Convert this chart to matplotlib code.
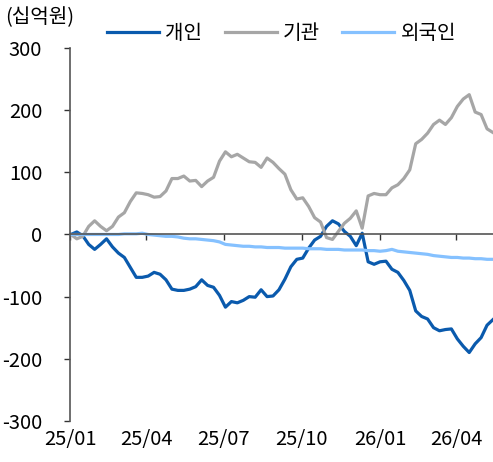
import matplotlib
matplotlib.use('Agg')
import matplotlib.pyplot as plt
import matplotlib.dates as mdates
import pandas as pd

plt.rcParams['font.family'] = ['Noto Sans CJK KR', 'DejaVu Sans']
plt.rcParams['font.weight'] = 'light'
plt.rcParams['axes.unicode_minus'] = False

# 주간 누적 순매수 (십억원)
dates = pd.date_range('2025-01-02', periods=72, freq='7D')

individual = [0, 4, -2, -16, -24, -16, -7, -20, -30, -37,
              -53, -69, -69, -67, -61, -64, -73, -88, -90, -90,
              -88, -84, -73, -82, -85, -98, -117, -108, -110, -106,
              -100, -101, -89, -100, -99, -89, -72, -52, -40, -38,
              -22, -9, -3, 13, 22, 17, 5, -3, -18, 2,
              -44, -48, -44, -43, -56, -61, -74, -90, -123, -132,
              -136, -150, -155, -153, -152, -168, -180, -190, -176, -166,
              -146, -137]

institution = [0, -7, -3, 13, 22, 13, 6, 13, 28, 35,
               53, 67, 66, 64, 60, 61, 70, 90, 90, 94,
               86, 87, 77, 86, 92, 118, 133, 125, 129, 123,
               117, 116, 108, 123, 116, 106, 97, 72, 57, 59,
               45, 27, 20, -5, -8, 5, 18, 26, 38, 10,
               62, 66, 64, 64, 75, 80, 90, 104, 146, 153,
               163, 177, 184, 177, 188, 206, 218, 225, 197, 193,
               170, 164]

foreign = [0, 0, 0, 0, 0, 0, 0, 0, 0, 1,
           1, 1, 2, 0, -1, -2, -3, -3, -4, -6,
           -7, -7, -8, -9, -10, -12, -16, -17, -18, -19,
           -19, -20, -20, -21, -21, -21, -22, -22, -22, -22,
           -23, -23, -23, -24, -24, -24, -25, -25, -25, -25,
           -26, -26, -27, -26, -24, -27, -28, -29, -30, -31,
           -32, -34, -35, -36, -37, -37, -38, -38, -39, -39,
           -40, -40]

labels = ['개인', '기관', '외국인']
colors = ['#0a5aad', '#a6a6a6', '#85c1ff']
tick_dates = pd.to_datetime(['2025-01-01', '2025-04-01', '2025-07-01',
                             '2025-10-01', '2026-01-01', '2026-04-01'])

fig = plt.figure(figsize=(4.93, 4.62), dpi=100)
ax = fig.add_axes([0.142, 0.089, 0.858, 0.807])

for vals, lab, c in zip([individual, institution, foreign], labels, colors):
    ax.plot(dates, vals, color=c, lw=2.3, label=lab, solid_joinstyle='round')

ax.set_xlim(pd.Timestamp('2025-01-01'), dates[-1])
ax.set_ylim(-300, 300)
ax.set_yticks(range(-300, 301, 100))

ax.spines['top'].set_visible(False)
ax.spines['right'].set_visible(False)
ax.spines['bottom'].set_position(('data', 0))
for s in ['left', 'bottom']:
    ax.spines[s].set_color('#555555')
    ax.spines[s].set_linewidth(1.2)

ax.set_xticks(tick_dates)
ax.tick_params(axis='x', direction='out', length=4, width=1, color='#333333',
               labelbottom=False)
ax.tick_params(axis='y', direction='out', length=4, width=1, color='#333333',
               labelsize=14.5, pad=16)

sec = ax.secondary_xaxis('bottom')
sec.set_xticks(tick_dates)
sec.xaxis.set_major_formatter(mdates.DateFormatter('%y/%m'))
sec.spines['bottom'].set_visible(False)
sec.tick_params(length=0, labelsize=14.5, pad=6)

ax.legend(loc='center', bbox_to_anchor=(0.5, 1.04), ncol=3, frameon=False,
          fontsize=14.5, handlelength=2.6, handletextpad=0.3, columnspacing=1.1,
          borderaxespad=0)

fig.text(0.01, 1 - 18 / 462, '(십억원)', fontsize=14.5, va='center', ha='left')

fig.savefig('out.png', dpi=100)
